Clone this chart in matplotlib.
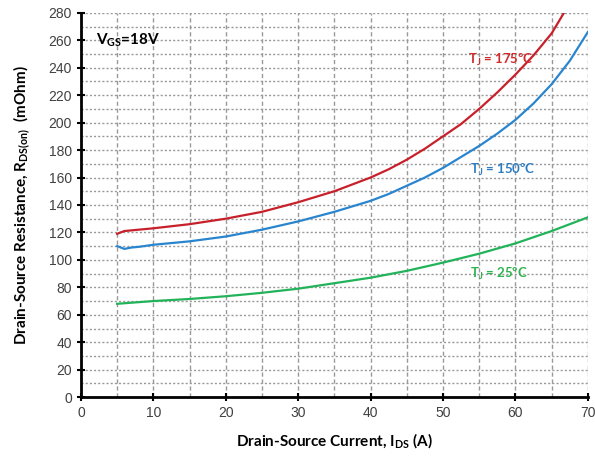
import matplotlib
matplotlib.use('Agg')
import matplotlib.pyplot as plt
from matplotlib.ticker import MultipleLocator

ids_175 = [5, 6, 10, 15, 20, 25, 30, 35, 40, 42.5, 45, 47.5, 50, 52.5, 55, 57.5, 60, 62.5, 65, 66.7]
rds_175 = [119, 121, 123, 126, 130, 135, 142, 150, 160, 166, 173, 181, 190, 199, 210, 222, 235, 249, 265, 280]

ids_150 = [5, 6, 7, 8, 10, 15, 20, 25, 30, 35, 40, 42.5, 45, 47.5, 50, 52.5, 55, 57.5, 60, 62.5, 65, 67.5, 70]
rds_150 = [110, 108, 109, 109.5, 111, 113.5, 117, 122, 128, 135, 143, 148, 154, 160, 167, 175, 183, 192, 202, 214, 228, 245, 266]

ids_25 = [5, 10, 15, 20, 25, 30, 35, 40, 45, 50, 55, 60, 65, 70]
rds_25 = [68, 70, 71.5, 73.5, 76, 79, 83, 87, 92, 98, 104.5, 112, 121, 131]

plt.rcParams['mathtext.default'] = 'regular'

fig = plt.figure(figsize=(5.95, 4.57), dpi=100)
ax = fig.add_axes([0.136, 0.131, 0.852, 0.841])

ax.plot(ids_175, rds_175, color='#c8202b', lw=1.6)
ax.plot(ids_150, rds_150, color='#2a85cf', lw=1.6)
ax.plot(ids_25, rds_25, color='#22b35a', lw=1.6)

ax.set_xlim(0, 70)
ax.set_ylim(0, 280)
ax.xaxis.set_major_locator(MultipleLocator(10))
ax.yaxis.set_major_locator(MultipleLocator(20))
ax.xaxis.set_minor_locator(MultipleLocator(5))
ax.yaxis.set_minor_locator(MultipleLocator(10))
ax.tick_params(which='minor', length=0)
ax.tick_params(which='major', direction='inout', length=6, width=1.5,
               labelsize=10, colors='black')
for lab in ax.get_xticklabels() + ax.get_yticklabels():
    lab.set_fontfamily('Liberation Sans')
    lab.set_color('#404040')

ax.grid(axis='x', which='both', color='#999999', ls=(0, (3, 2)), lw=1)
ax.grid(axis='y', which='both', color='#999999', ls=(0, (1.5, 1.5)), lw=1)
ax.set_axisbelow(True)

for s in ['top', 'right']:
    ax.spines[s].set_visible(False)
for s in ['left', 'bottom']:
    ax.spines[s].set_linewidth(2)

ax.set_xlabel('Drain-Source Current, I$_{DS}$ (A)', family='Lato',
              fontweight='bold', fontsize=11, labelpad=8)
ax.set_ylabel('Drain-Source Resistance, R$_{DS(on)}$  (mOhm)', family='Lato',
              fontweight='bold', fontsize=11, labelpad=12)

ax.text(2.1, 260, 'V$_{GS}$=18V', family='Lato', fontweight='bold',
        fontsize=11, va='center')
ax.text(53.5, 246, 'T$_{J}$ = 175ºC', family='Lato', color='#d02a2a',
        fontsize=9.5, fontweight='bold', va='center')
ax.text(53.7, 165.5, 'T$_{J}$ = 150ºC', family='Lato', color='#2e7dc4',
        fontsize=9.5, fontweight='bold', va='center')
ax.text(53.7, 89.5, 'T$_{J}$ = 25ºC', family='Lato', color='#2db24d',
        fontsize=9.5, fontweight='bold', va='center')

fig.savefig('out.png', dpi=100)
